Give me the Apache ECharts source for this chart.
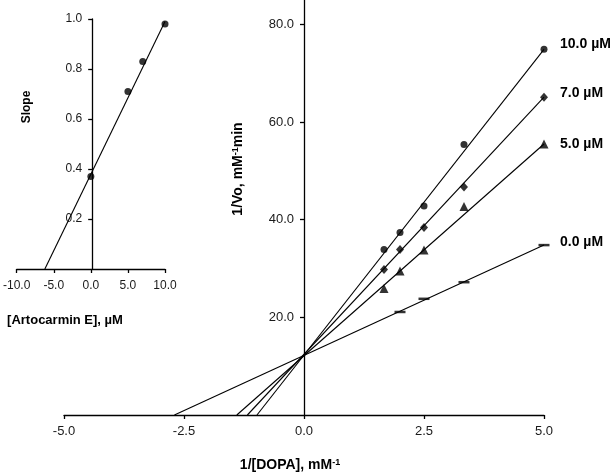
<!DOCTYPE html>
<html>
<head>
<meta charset="utf-8">
<script src="https://cdn.jsdelivr.net/npm/echarts@6/dist/echarts.min.js"></script>
<style>
html,body{margin:0;padding:0;background:#fff;}
#c{width:615px;height:475px;}
</style>
</head>
<body>
<div id="c"></div>
<script>
// ---- Main Lineweaver-Burk plot data ----
const invDopa = [1.667, 2.0, 2.5, 3.333, 5.0];          // 1/[DOPA], mM^-1
const v10 = [33.9, 37.4, 42.8, 55.4, 74.9];             // 10.0 µM
const v7  = [29.8, 33.9, 38.4, 46.7, 65.1];             // 7.0 µM
const v5  = [25.9, 29.5, 33.8, 42.7, 55.5];             // 5.0 µM
const invDopa0 = [2.0, 2.5, 3.333, 5.0];
const v0  = [21.1, 23.8, 27.2, 34.8];                   // 0.0 µM
// fitted lines (end points)
const fit10 = [[-0.98, 0], [5.0, 74.9]];
const fit7  = [[-1.18, 0], [5.0, 65.1]];
const fit5  = [[-1.40, 0], [5.0, 55.5]];
const fit0  = [[-2.70, 0], [5.0, 34.8]];
const seriesNames = ['10.0 µM', '7.0 µM', '5.0 µM', '0.0 µM'];
// ---- Inset secondary plot ----
const conc = [0, 5, 7, 10];                             // [Artocarmin E], µM
const slope = [0.37, 0.71, 0.83, 0.98];
const fitSlope = [[-6.2, 0], [10, 0.99]];
// ticks / ranges
const mainXTicks = [-5, -2.5, 0, 2.5, 5];
const mainYTicks = [20, 40, 60, 80];
const insetXTicks = [-10, -5, 0, 5, 10];
const insetYTicks = [0.2, 0.4, 0.6, 0.8, 1.0];
const mainXRange = [-5, 5], mainYRange = [0, 85];
const insetXRange = [-10, 10], insetYRange = [0, 1];

const zip = (xs, ys) => xs.map((x, i) => [x, ys[i]]);
const FONT = 'Arial, "Liberation Sans", sans-serif';
const TXT = '#1a1a1a';
const axisLineStyle = {color: '#000', width: 1.3};

const W = 615;
const mainGrid = {left: 64, right: 71, top: 0, bottom: 60};
const insetGrid = {left: 14, right: 450, top: 19, bottom: 206};
// offset that puts a left-side y axis at x = 0 of its x scale
function zeroOffset(grid, range) {
  const w = W - grid.left - grid.right;
  return -w * (0 - range[0]) / (range[1] - range[0]);
}

const chart = echarts.init(document.getElementById('c'), null, {renderer: 'canvas'});

function fitSeries(name, data, xi, yi, offset) {
  return {
    type: 'line', name: name, xAxisIndex: xi, yAxisIndex: yi, data: data,
    showSymbol: false, silent: true, animation: false,
    lineStyle: {color: '#000', width: 1.1},
    endLabel: offset ? {
      show: true, formatter: name, color: '#000', fontFamily: FONT,
      fontWeight: 'bold', fontSize: 14, offset: offset, distance: 12
    } : {show: false},
    z: 2
  };
}
function ptSeries(data, xi, yi, symbol, size) {
  return {
    type: 'scatter', data: data, xAxisIndex: xi, yAxisIndex: yi,
    symbol: symbol, symbolSize: size, silent: true, animation: false,
    itemStyle: {color: '#000'}, z: 3
  };
}

const option = {
  animation: false,
  backgroundColor: '#fff',
  grid: [mainGrid, insetGrid],
  xAxis: [
    {
      type: 'value', gridIndex: 0, min: mainXRange[0], max: mainXRange[1], interval: 2.5,
      axisLine: {onZero: false, lineStyle: axisLineStyle},
      axisTick: {show: true, length: 4, lineStyle: axisLineStyle, customValues: mainXTicks},
      axisLabel: {customValues: mainXTicks, formatter: v => v.toFixed(1), color: TXT, fontFamily: FONT, fontSize: 13, margin: 10},
      splitLine: {show: false}
    },
    {
      type: 'value', gridIndex: 1, min: insetXRange[0], max: insetXRange[1], interval: 5,
      axisLine: {onZero: false, lineStyle: axisLineStyle},
      axisTick: {show: true, length: 4, lineStyle: axisLineStyle, customValues: insetXTicks},
      axisLabel: {customValues: insetXTicks, formatter: v => v.toFixed(1), color: TXT, fontFamily: FONT, fontSize: 12, margin: 11},
      splitLine: {show: false}
    }
  ],
  yAxis: [
    {
      type: 'value', gridIndex: 0, min: mainYRange[0], max: mainYRange[1], interval: 20,
      offset: zeroOffset(mainGrid, mainXRange),
      axisLine: {show: true, onZero: false, lineStyle: axisLineStyle},
      axisTick: {show: true, length: 4, lineStyle: axisLineStyle, customValues: mainYTicks},
      axisLabel: {customValues: mainYTicks, formatter: v => v.toFixed(1), color: TXT, fontFamily: FONT, fontSize: 13, margin: 10},
      splitLine: {show: false}
    },
    {
      type: 'value', gridIndex: 1, min: insetYRange[0], max: insetYRange[1], interval: 0.2,
      offset: zeroOffset(insetGrid, insetXRange),
      axisLine: {show: true, onZero: false, lineStyle: axisLineStyle},
      axisTick: {show: true, length: 4, lineStyle: axisLineStyle, customValues: insetYTicks},
      axisLabel: {customValues: insetYTicks, formatter: v => v.toFixed(1), color: TXT, fontFamily: FONT, fontSize: 12, margin: 10},
      splitLine: {show: false}
    }
  ],
  series: [
    fitSeries(seriesNames[0], fit10, 0, 0, [4, -5]),
    fitSeries(seriesNames[1], fit7, 0, 0, [4, -4]),
    fitSeries(seriesNames[2], fit5, 0, 0, [4, 0]),
    fitSeries(seriesNames[3], fit0, 0, 0, [4, -3]),
    ptSeries(zip(invDopa, v10), 0, 0, 'circle', 7),
    ptSeries(zip(invDopa, v7), 0, 0, 'diamond', [8, 9]),
    ptSeries(zip(invDopa, v5), 0, 0, 'triangle', [9, 9]),
    ptSeries(zip(invDopa0, v0), 0, 0, 'rect', [11, 2.5]),
    fitSeries('slope fit', fitSlope, 1, 1, null),
    ptSeries(zip(conc, slope), 1, 1, 'circle', 7)
  ],
  graphic: [
    {
      type: 'text', x: 238, y: 169, rotation: Math.PI / 2,
      style: {
        text: '1/Vo, mM{sup|-1}min', x: 0, y: 0, align: 'center', verticalAlign: 'middle',
        fill: '#000', font: 'bold 14px ' + FONT,
        rich: {sup: {fontSize: 9, fontWeight: 'bold', fontFamily: FONT, verticalAlign: 'top', fill: '#000'}}
      }
    },
    {
      type: 'text', x: 290, y: 465,
      style: {
        text: '1/[DOPA], mM{sup|-1}', x: 0, y: 0, align: 'center', verticalAlign: 'middle',
        fill: '#000', font: 'bold 14px ' + FONT,
        rich: {sup: {fontSize: 9, fontWeight: 'bold', fontFamily: FONT, verticalAlign: 'top', fill: '#000'}}
      }
    },
    {
      type: 'text', x: 26.5, y: 107, rotation: Math.PI / 2,
      style: {text: 'Slope', x: 0, y: 0, align: 'center', verticalAlign: 'middle', fill: '#000', font: 'bold 12px ' + FONT}
    },
    {
      type: 'text', x: 65, y: 320,
      style: {text: '[Artocarmin E], µM', x: 0, y: 0, align: 'center', verticalAlign: 'middle', fill: '#000', font: 'bold 13px ' + FONT}
    }
  ]
};
chart.setOption(option);
</script>
</body>
</html>
